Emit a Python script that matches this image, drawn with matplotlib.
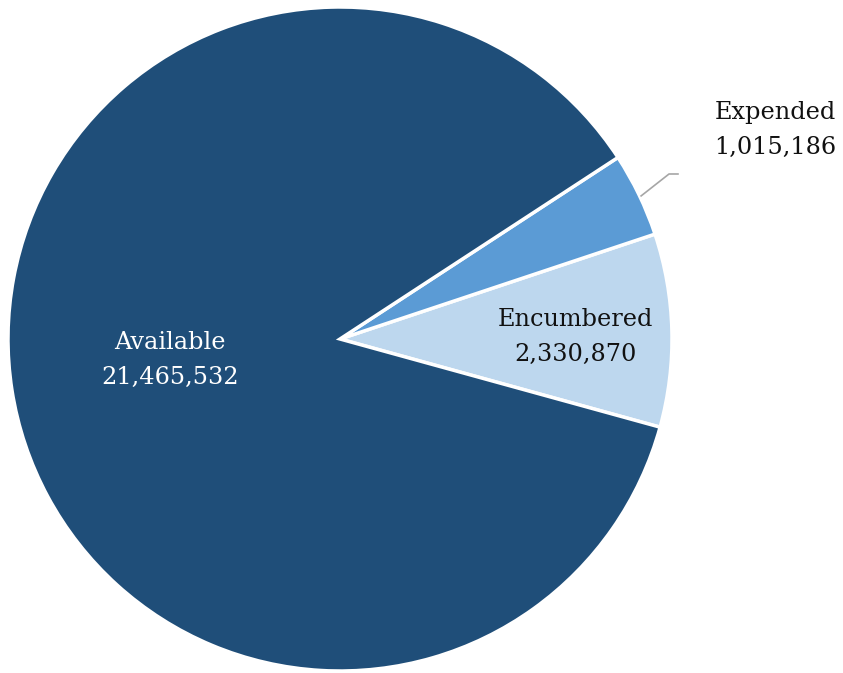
import matplotlib
matplotlib.use("Agg")
import matplotlib.pyplot as plt

labels = ["Encumbered", "Expended", "Available"]
values = [2330870, 1015186, 21465532]
colors = ["#BDD7EE", "#5B9BD5", "#1F4E79"]
text_colors = ["#111111", "#111111", "white"]

W, H = 843, 673
fig = plt.figure(figsize=(W / 100, H / 100), dpi=100)
# pie centre (340, 339) px, radius 332 px
ax = fig.add_axes([8 / W, (H - 671) / H, 664 / W, 664 / H])

wedges, _ = ax.pie(values, colors=colors, startangle=-15.4, counterclock=True,
                   wedgeprops=dict(edgecolor="white", linewidth=2.5))
ax.set_xlim(-1, 1)
ax.set_ylim(-1, 1)
ax.set_aspect("equal")
ax.axis("off")

font = dict(family="DejaVu Serif", fontsize=17.3, ha="center", va="center",
            linespacing=1.7)
# label positions in data units (radius = 1)
label_pos = [(0.708, 0.006), (1.31, 0.63), (-0.512, -0.063)]
for lab, val, pos, tc in zip(labels, values, label_pos, text_colors):
    ax.text(pos[0], pos[1], f"{lab}\n{val:,}", color=tc, clip_on=False, **font)

# leader line for the small slice
ax.plot([0.907, 0.991, 1.018], [0.431, 0.497, 0.497], color="#a6a6a6",
        lw=1.2, clip_on=False)

fig.savefig("out.png", dpi=100)
